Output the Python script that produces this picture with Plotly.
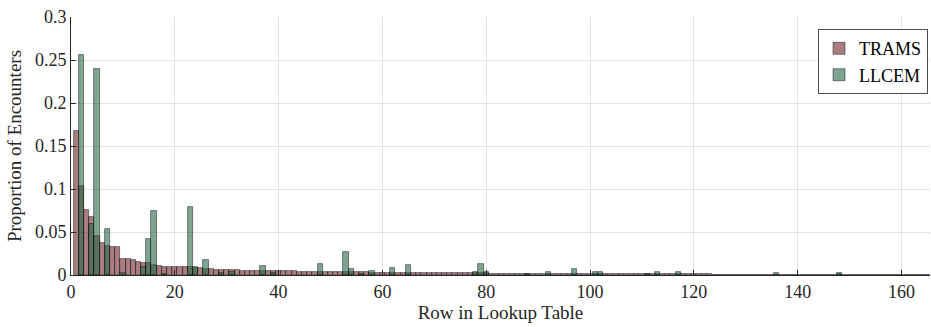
import plotly.graph_objects as go

# Row index (x categories)
rows = list(range(1, 166))

# TRAMS proportions per row
trams = [
    0.167, 0.104, 0.076, 0.067, 0.045, 0.037, 0.034, 0.032, 0.032, 0.019,
    0.019, 0.018, 0.0155, 0.0136, 0.0136, 0.0113, 0.011, 0.0097, 0.0097, 0.0097,
    0.0093, 0.009, 0.0089, 0.0085, 0.0078, 0.007, 0.007, 0.006, 0.006, 0.0058,
    0.0055, 0.0055, 0.005, 0.005, 0.005, 0.0048, 0.0045, 0.0044, 0.0043, 0.0043,
    0.0042, 0.0042, 0.0041, 0.004, 0.004, 0.004, 0.0039, 0.0038, 0.0037, 0.0036,
    0.0034, 0.0033, 0.0033, 0.0032, 0.0031, 0.0031, 0.003, 0.0029, 0.0029, 0.0028,
    0.0027, 0.0027, 0.0026, 0.0025, 0.0025, 0.0024, 0.0023, 0.0023, 0.0022, 0.0022,
    0.0021, 0.0021, 0.002, 0.002, 0.0019, 0.0019, 0.0019, 0.0018, 0.0018, 0.0018,
    0.0017, 0.0017, 0.0016, 0.0016, 0.0016, 0.0015, 0.0015, 0.0015, 0.0014, 0.0014,
    0.0013, 0.0013, 0.0013, 0.0012, 0.0012, 0.0012, 0.0011, 0.0011, 0.0011, 0.0011,
    0.001, 0.001, 0.001, 0.001, 0.0009, 0.0009, 0.0009, 0.0009, 0.0009, 0.0008,
    0.0008, 0.0008, 0.0008, 0.0008, 0.0007, 0.0007, 0.0007, 0.0007, 0.0007, 0.0006,
    0.0006, 0.0006, 0.0006, 0.0005, 0.0005, 0.0005, 0.0005, 0.0005, 0.0004, 0.0004,
    0.0004, 0.0004, 0.0004, 0.0004, 0.0003, 0.0003, 0.0003, 0.0003, 0.0003, 0.0003,
    0.0003, 0.0002, 0.0002, 0.0002, 0.0002, 0.0005, 0.0002, 0.0006, 0.0002, 0.0004,
    0.0004, 0.0004, 0.0001, 0.0001, 0.0001, 0.0001, 0.0001, 0.0001, 0.0001, 0.0001,
    0.0001, 0.0003, 0.0001, 0.0002, 0.0001,
]

# LLCEM: rows with non-zero proportion and their values
llcem_rows = [2, 4, 5, 7, 10, 14, 15, 16, 18, 23, 24, 26, 29, 31, 37, 39, 48,
              53, 54, 56, 58, 62, 65, 78, 79, 80, 88, 92, 97, 101, 102, 111,
              113, 117, 136, 148]
llcem_vals = [0.256, 0.059, 0.240, 0.054, 0.002, 0.0097, 0.042, 0.074, 0.0015,
              0.079, 0.0097, 0.017, 0.002, 0.003, 0.0105, 0.002, 0.0128,
              0.0264, 0.0066, 0.001, 0.0047, 0.0085, 0.0113, 0.004, 0.0128,
              0.003, 0.0015, 0.004, 0.0068, 0.004, 0.003, 0.0015,
              0.003, 0.003, 0.0027, 0.002]

x_ticks = [0, 20, 40, 60, 80, 100, 120, 140, 160]
y_ticks = [0, 0.05, 0.1, 0.15, 0.2, 0.25, 0.3]
y_tick_text = ["0", "0.05", "0.1", "0.15", "0.2", "0.25", "0.3"]

FONT = "Liberation Serif"
edge = "rgba(0,0,0,0.55)"

fig = go.Figure()
fig.add_trace(go.Bar(
    x=rows, y=trams, width=1, name="TRAMS",
    marker=dict(color="rgba(113,38,43,0.6)", line=dict(color=edge, width=0.8)),
))
fig.add_trace(go.Bar(
    x=llcem_rows, y=llcem_vals, width=1, name="LLCEM",
    marker=dict(color="rgba(38,105,72,0.6)", line=dict(color=edge, width=0.8)),
))

fig.update_layout(
    width=931, height=327,
    barmode="overlay", bargap=0,
    margin=dict(l=71, r=1, t=17, b=52, autoexpand=False),
    paper_bgcolor="white", plot_bgcolor="white",
    font=dict(family=FONT, size=18, color="#262626"),
    showlegend=True,
    legend=dict(
        x=0.9977, xanchor="right", y=0.953, yanchor="top",
        bordercolor="#4d4d4d", borderwidth=1, bgcolor="white",
        font=dict(family=FONT, size=18, color="#000000"),
        tracegroupgap=0, itemwidth=30,
    ),
    xaxis=dict(
        range=[0, 165.5], tickvals=x_ticks, ticks="inside", ticklen=5,
        tickcolor="#262626", showline=True, linecolor="#262626", linewidth=1,
        showgrid=True, gridcolor="#e3e3e3", zeroline=False, automargin=False,
        title=dict(text="Row in Lookup Table", standoff=2,
                   font=dict(family=FONT, size=19, color="#262626")),
        tickfont=dict(family=FONT, size=18, color="#262626"),
    ),
    yaxis=dict(
        range=[0, 0.3], tickvals=y_ticks, ticktext=y_tick_text,
        ticks="inside", ticklen=5, tickcolor="#262626",
        showline=True, linecolor="#262626", linewidth=1,
        showgrid=True, gridcolor="#e3e3e3", zeroline=False, automargin=False,
        title=dict(text="Proportion of Encounters", standoff=8,
                   font=dict(family=FONT, size=19, color="#262626")),
        tickfont=dict(family=FONT, size=18, color="#262626"),
    ),
)

fig.write_html("out.html", config={"displayModeBar": False},
               post_script="document.body.style.margin='0';document.body.style.overflow='hidden';")
